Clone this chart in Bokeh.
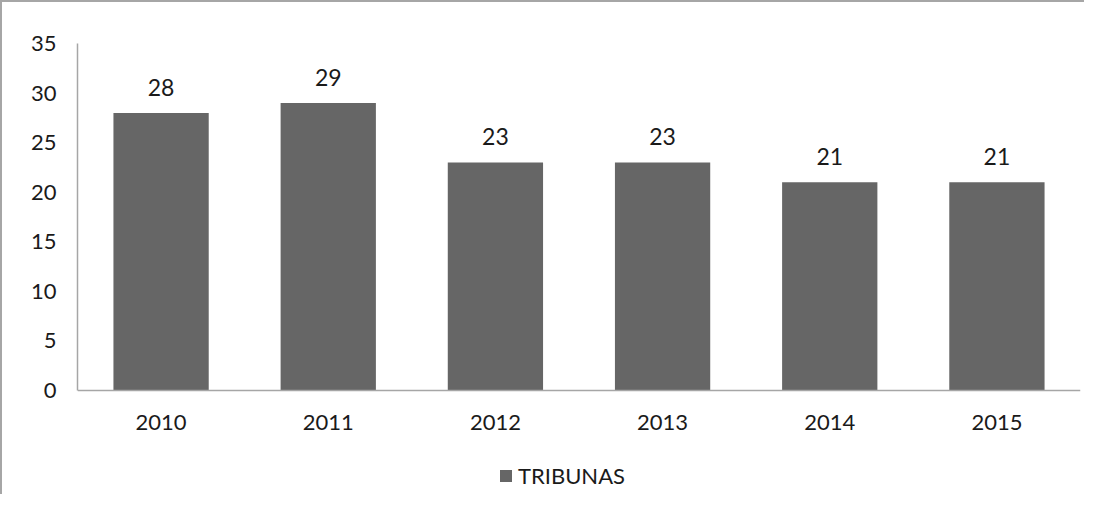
from bokeh.plotting import figure
from bokeh.models import (ColumnDataSource, FactorRange, Range1d, FixedTicker,
                          LabelSet, Legend, LegendItem)
from bokeh.core.properties import value
from bokeh.embed import file_html
from bokeh.resources import INLINE

years = ["2010", "2011", "2012", "2013", "2014", "2015"]
tribunas = [28, 29, 23, 23, 21, 21]
y_ticks = [0, 5, 10, 15, 20, 25, 30, 35]
series_name = "TRIBUNAS"

FONT = "Lato"
src = ColumnDataSource(dict(x=years, y=tribunas, lbl=[str(v) for v in tribunas]))

# y range extends below zero so that the legend fits inside the frame
p = figure(x_range=FactorRange(*years, range_padding=0),
           y_range=Range1d(-10.7, 35),
           width=1084, height=494, output_backend="svg",
           toolbar_location=None,
           min_border_left=75, min_border_right=6, min_border_top=41,
           min_border_bottom=0)
p.styles = {"border-top": "2px solid #a6a6a6", "border-left": "2px solid #a6a6a6"}

r = p.vbar(x="x", top="y", width=0.57, source=src, fill_color="#666666",
           line_color=None)

labels = LabelSet(x="x", y="y", text="lbl", source=src, text_align="center",
                  text_baseline="bottom", y_offset=17, text_font=value(FONT),
                  text_font_size="23px", text_color="#1a1a1a")
p.add_layout(labels)

p.xgrid.grid_line_color = None
p.ygrid.grid_line_color = None
p.outline_line_color = None

p.xaxis.fixed_location = 0
p.yaxis.bounds = (0, 35)
p.yaxis.ticker = FixedTicker(ticks=y_ticks)
for ax in (p.xaxis[0], p.yaxis[0]):
    ax.axis_line_color = "#a6a6a6"
    ax.axis_line_width = 1.5
    ax.major_tick_line_color = None
    ax.minor_tick_line_color = None
    ax.major_label_text_font = FONT
    ax.major_label_text_font_size = "22px"
    ax.major_label_text_color = "#1a1a1a"
p.yaxis.major_label_standoff = 15
p.xaxis.major_label_standoff = 19

legend = Legend(items=[LegendItem(label=series_name, renderers=[r])],
                location=(421, 7), orientation="horizontal",
                glyph_width=15, glyph_height=15, label_text_font=FONT,
                label_text_font_size="22px", label_text_color="#1a1a1a",
                border_line_color=None, background_fill_alpha=0,
                margin=0, padding=4, label_standoff=5)
p.add_layout(legend)

open("out.html", "w").write(file_html(p, INLINE))
